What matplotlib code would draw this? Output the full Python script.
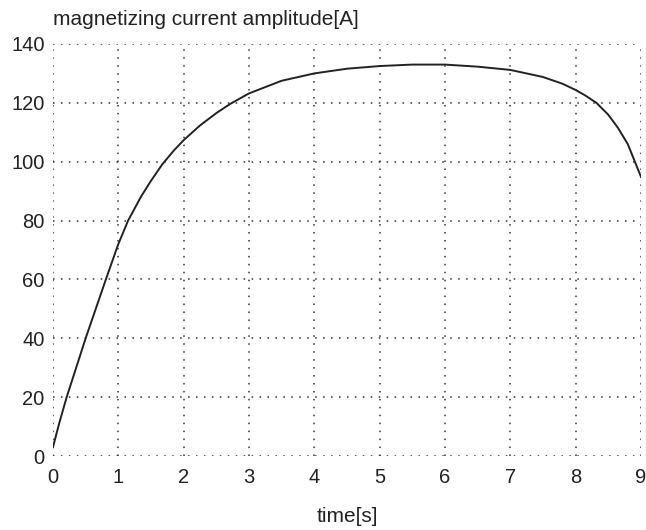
import matplotlib
matplotlib.use("Agg")
import matplotlib.pyplot as plt

time_s = [0.0, 0.1, 0.21, 0.5, 0.81, 1.0, 1.15, 1.35, 1.5, 1.67, 1.85, 2.0, 2.25, 2.5, 2.71,
          3.0, 3.5, 4.0, 4.5, 5.0, 5.5, 6.0, 6.5, 7.0, 7.5, 7.8, 8.0, 8.15, 8.32, 8.5,
          8.65, 8.8, 9.0]
current_a = [3, 11.5, 20, 40, 60, 72, 80, 88.2, 93.5, 99, 103.8, 107.3, 112.3, 116.5, 119.6,
             123.2, 127.5, 130, 131.6, 132.5, 133, 133, 132.3, 131.2, 128.8, 126.5, 124.4, 122.5, 120, 116,
             111.5, 106, 95]
x_ticks = [0, 1, 2, 3, 4, 5, 6, 7, 8, 9]
y_ticks = [0, 20, 40, 60, 80, 100, 120, 140]

plt.rcParams['font.family'] = ['Liberation Sans', 'DejaVu Sans']

fig = plt.figure(figsize=(6.46, 5.30), dpi=100)
ax = fig.add_axes([0.082, 0.1396, 0.91, 0.7774])
ax.plot(time_s, current_a, color='#222222', lw=1.4)
ax.set_xlim(0, 9)
ax.set_ylim(0, 140)
ax.set_xticks(x_ticks)
ax.set_yticks(y_ticks)
ax.grid(True, color='#333333', linestyle=(0, (1, 4.2)), linewidth=1.1)
for s in ax.spines.values():
    s.set_visible(False)
ax.tick_params(length=0, labelsize=14.5, colors='#222222')
ax.tick_params(axis='y', pad=6)
ax.tick_params(axis='x', pad=8.5)
ax.text(0.0, 1.046, 'magnetizing current amplitude[A]', transform=ax.transAxes,
        ha='left', va='baseline', fontsize=15, color='#222222')
ax.set_xlabel('time[s]', fontsize=15, color='#222222')
ax.xaxis.set_label_coords(0.5, -0.148)
ax.xaxis.label.set_va('center')
fig.savefig('out.png', dpi=100)
